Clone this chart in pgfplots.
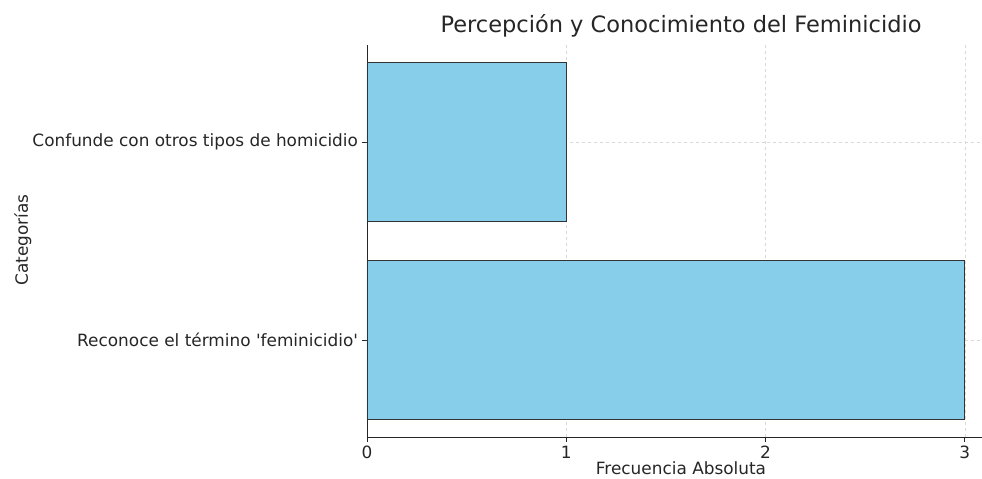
\documentclass[border=0pt]{standalone}
\usepackage{pgfplots}
\pgfplotsset{compat=1.18}
\usepackage{fontspec}
\setmainfont{DejaVu Sans}[Ligatures=TeXOff]
\definecolor{skyblue}{HTML}{87CEEB}
\definecolor{edgec}{HTML}{333333}
\definecolor{txt}{HTML}{262626}
\begin{document}
\begin{tikzpicture}
\useasboundingbox (-367bp,-42bp) rectangle (615bp,437bp);
\begin{axis}[
  at={(0,0)}, anchor=south west,
  scale only axis, width=615bp, height=392bp,
  xbar, bar width=0.8,
  xmin=0, xmax=3.086,
  ymin=-0.49, ymax=1.49,
  xtick={0,1,2,3},
  ytick={0,1},
  yticklabels={Reconoce el término 'feminicidio', Confunde con otros tipos de homicidio},
  axis x line*=bottom, axis y line*=left,
  axis line style={txt, line width=0.9bp},
  tick align=outside, major tick length=4.5bp,
  tick style={txt, line width=0.8bp},
  grid=major,
  major grid style={dashed, gray!30, line width=0.6bp},
  /pgf/number format/assume math mode=true,
  ticklabel style={font=\fontsize{16.9bp}{19bp}\selectfont, text=txt},
  xticklabel style={yshift=-1bp},
  yticklabel style={xshift=-1bp},
  title={Percepción y Conocimiento del Feminicidio},
  title style={at={(rel axis cs:0.5106,1)}, anchor=base, yshift=7bp, font=\fontsize{22.5bp}{25bp}\selectfont, text=txt},
  xlabel={Frecuencia Absoluta},
  xlabel style={at={(rel axis cs:0.5106,0)}, anchor=base, yshift=-37bp, font=\fontsize{16.9bp}{19bp}\selectfont, text=txt},
  ylabel={Categorías},
  ylabel style={at={(rel axis cs:0,0.503)}, anchor=base, yshift=339bp, font=\fontsize{16.9bp}{19bp}\selectfont, text=txt},
  clip=false,
]
\addplot[fill=skyblue, draw=edgec, line width=0.9bp] coordinates {(3,0) (1,1)};
\end{axis}
\end{tikzpicture}
\end{document}
